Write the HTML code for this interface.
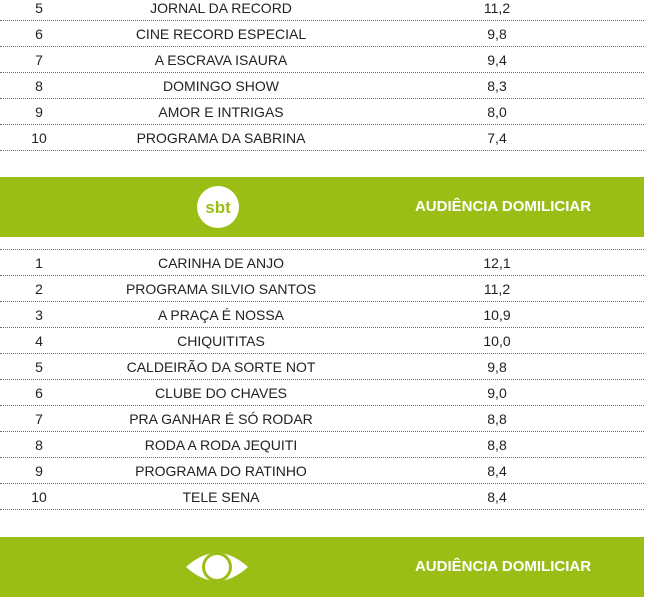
<!DOCTYPE html>
<html><head><meta charset="utf-8"><style>
body{margin:0;width:646px;height:600px;background:#fff;position:relative;overflow:hidden;font-family:"Liberation Sans",sans-serif;}
.row{position:absolute;left:0;width:646px;height:26px;font-size:14px;color:#222;}
.row span{position:absolute;top:0;line-height:26px;white-space:nowrap;transform:translateX(-50%);}
.line{position:absolute;left:0;width:644px;border-top:1px dotted #2f8587;height:0;}
.band{position:absolute;left:0;width:644px;height:60px;background:#9bbe17;}
.band .t{position:absolute;left:503px;top:0;line-height:60px;transform:translateX(-50%);color:#fff;font-weight:bold;font-size:15px;white-space:nowrap;}
</style></head><body>
<div id="root"></div>
<div class="band" style="top:177px">
 <svg style="position:absolute;left:196px;top:8px" width="44" height="44"><circle cx="22" cy="22" r="21" fill="#fff"/><text x="22" y="28" text-anchor="middle" font-family="Liberation Sans" font-weight="bold" font-size="17" fill="#9bbe17">sbt</text></svg>
 <div class="t">AUDIÊNCIA DOMILICIAR</div>
</div>
<div class="band" style="top:537px">
 <svg style="position:absolute;left:185px;top:10px" width="64" height="40"><path d="M1 20 Q32 -8 63 20 Q32 48 1 20Z" fill="#fff"/><circle cx="32" cy="20" r="15" fill="#9bbe17"/><circle cx="32" cy="20" r="12" fill="#fff"/></svg>
 <div class="t">AUDIÊNCIA DOMILICIAR</div>
</div>
<script>
const recordRanks=[5,6,7,8,9,10];
const recordNames=["JORNAL DA RECORD","CINE RECORD ESPECIAL","A ESCRAVA ISAURA","DOMINGO SHOW","AMOR E INTRIGAS","PROGRAMA DA SABRINA"];
const recordValues=["11,2","9,8","9,4","8,3","8,0","7,4"];
const sbtRanks=[1,2,3,4,5,6,7,8,9,10];
const sbtNames=["CARINHA DE ANJO","PROGRAMA SILVIO SANTOS","A PRAÇA É NOSSA","CHIQUITITAS","CALDEIRÃO DA SORTE NOT","CLUBE DO CHAVES","PRA GANHAR É SÓ RODAR","RODA A RODA JEQUITI","PROGRAMA DO RATINHO","TELE SENA"];
const sbtValues=["12,1","11,2","10,9","10,0","9,8","9,0","8,8","8,8","8,4","8,4"];
function table(ranks,names,vals,firstLine,prefix,topDivider){
  if(topDivider!==undefined){const l=document.createElement('div');l.className='line';l.style.top=topDivider+'px';
  
  
  document.body.appendChild(l);}
  ranks.forEach((r,i)=>{
    const L=firstLine+i*26;
    const row=document.createElement('div');row.className='row';row.style.top=(L-25)+'px';
    
    
    row.innerHTML='<span style="left:39px">'+r+'</span><span style="left:221px">'+names[i]+'</span><span style="left:497px">'+vals[i]+'</span>';
    document.body.appendChild(row);
    const l=document.createElement('div');l.className='line';l.style.top=L+'px';
    
    
    document.body.appendChild(l);
  });
}
table(recordRanks,recordNames,recordValues,20,'record');
table(sbtRanks,sbtNames,sbtValues,275,'sbt',249);
</script>
</body></html>
